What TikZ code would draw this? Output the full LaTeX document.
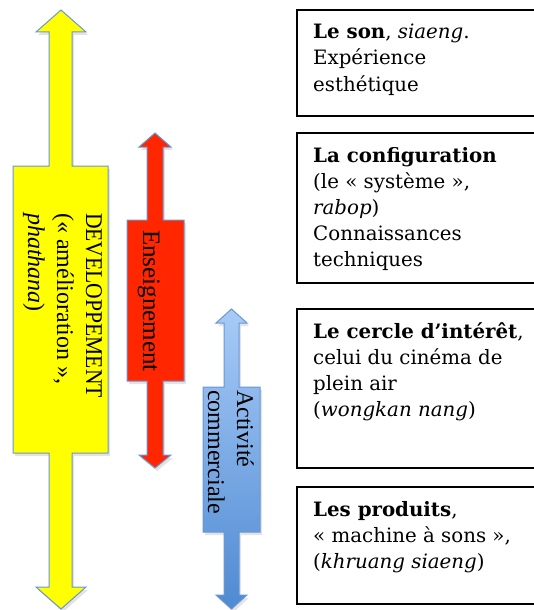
\documentclass[tikz,border=0pt]{standalone}
\usepackage{fontspec}
\setmainfont{DejaVu Serif}
\newfontfamily\timesf{Liberation Serif}
\usetikzlibrary{shadows}
\definecolor{arrowline}{RGB}{105,150,212}
\definecolor{yel}{RGB}{255,255,0}
\definecolor{redf}{RGB}{255,38,0}
\definecolor{bluetop}{RGB}{168,203,247}
\definecolor{bluebot}{RGB}{78,138,210}
\begin{document}
\begin{tikzpicture}[x=1pt,y=-1pt,
  arrowshape/.style={draw=arrowline, line width=1pt, line join=miter,
    drop shadow={opacity=0.22, shadow xshift=2pt, shadow yshift=-3pt}},
  arrowlabel/.style={rotate=-90, anchor=base west, inner sep=0pt,
    font=\timesf\fontsize{24}{29}\selectfont},
  infobox/.style={draw=black, line width=1.4pt, fill=white},
  infotext/.style={anchor=base west, inner sep=0pt,
    font=\fontsize{19.8}{26}\selectfont}]
\useasboundingbox (0,0) rectangle (534,610);
\clip (0,0) rectangle (534,610);
% yellow double arrow
\path[arrowshape, fill=yel] (61,10) -- (86,32) -- (72,32) -- (72,166) -- (108,166) -- (108,453) -- (72,453) -- (72,587) -- (86,587) -- (61,609) -- (36,587) -- (49,587) -- (49,453) -- (13,453) -- (13,166) -- (49,166) -- (49,32) -- (36,32) -- cycle;
% red double arrow
\path[arrowshape, fill=redf] (155,133) -- (171,147) -- (163,147) -- (163,220) -- (184,220) -- (184,381) -- (163,381) -- (163,455) -- (171,455) -- (155,468) -- (139,455) -- (147,455) -- (147,381) -- (127,381) -- (127,220) -- (147,220) -- (147,147) -- (139,147) -- cycle;
% blue double arrow
\path[arrowshape, top color=bluetop, bottom color=bluebot] (231.5,309) -- (247,323) -- (239,323) -- (239,387) -- (260,387) -- (260,532) -- (239,532) -- (239,595) -- (247,595) -- (231.5,609) -- (216,595) -- (224,595) -- (224,532) -- (203,532) -- (203,387) -- (224,387) -- (224,323) -- (216,323) -- cycle;
% arrow labels
\node[arrowlabel] (dev1) at (86,213) {\scalebox{0.9}[1]{DEVELOPPEMENT}};
\node[arrowlabel] (dev2) at (57,213) {(« amélioration »,};
\node[arrowlabel] (dev3) at (28,213) {\textit{phathana})};
\node[arrowlabel, font=\timesf\fontsize{25}{30}\selectfont] (ens) at (143,230) {Enseignement};
\node[arrowlabel] (act1) at (237,390) {Activité};
\node[arrowlabel] (act2) at (208,390) {commerciale};
% right boxes
\draw[infobox] (297,10) rectangle (540,116);
\draw[infobox] (297,133) rectangle (540,283);
\draw[infobox] (297,309) rectangle (540,468);
\draw[infobox] (297,487) rectangle (540,604);
\node[infotext] (s1) at (313,39) {\textbf{Le son}, \textit{siaeng}.};
\node[infotext] (s2) at (313,65) {Expérience};
\node[infotext] (s3) at (313,91) {esthétique};
\node[infotext] (c1) at (313,162) {\textbf{La configuration}};
\node[infotext] (c2) at (313,188) {(le « système »,};
\node[infotext] (c3) at (313,214) {\textit{rabop})};
\node[infotext] (c4) at (313,240) {Connaissances};
\node[infotext] (c5) at (313,266) {techniques};
\node[infotext] (i1) at (313,338) {\textbf{Le cercle d’intérêt},};
\node[infotext] (i2) at (313,364) {celui du cinéma de};
\node[infotext] (i3) at (313,390) {plein air};
\node[infotext] (i4) at (313,416) {(\textit{wongkan nang})};
\node[infotext] (p1) at (313,516) {\textbf{Les produits},};
\node[infotext] (p2) at (313,542) {« machine à sons »,};
\node[infotext] (p3) at (313,568) {(\textit{khruang siaeng})};
\end{tikzpicture}
\end{document}
